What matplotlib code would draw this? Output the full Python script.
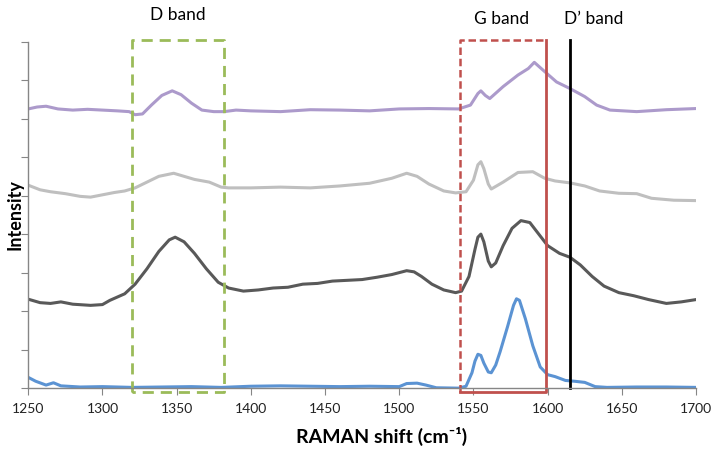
import matplotlib
matplotlib.use("Agg")
import matplotlib.pyplot as plt

plt.rcParams['font.family'] = ['Lato', 'DejaVu Sans']

# Raman spectra (offset stacked, arbitrary units)
blue_x = [1250, 1255, 1262, 1267, 1272, 1285, 1300, 1320, 1340, 1360, 1380, 1400,
          1420, 1440, 1460, 1480, 1500, 1505, 1512, 1518, 1525, 1540, 1545, 1549,
          1551, 1553, 1555, 1557, 1560, 1562, 1565, 1568, 1573, 1577, 1579, 1581,
          1585, 1590, 1595, 1600, 1605, 1612, 1618, 1625, 1632, 1640, 1660, 1680,
          1700]
blue_y = [0.28, 0.18, 0.08, 0.14, 0.06, 0.03, 0.04, 0.02, 0.03, 0.04, 0.02, 0.05,
          0.06, 0.05, 0.04, 0.05, 0.04, 0.12, 0.13, 0.08, 0.01, 0.0, 0.05, 0.4,
          0.7, 0.88, 0.85, 0.65, 0.42, 0.4, 0.6, 0.95, 1.6, 2.15, 2.32, 2.28,
          1.8, 1.1, 0.55, 0.35, 0.3, 0.2, 0.18, 0.15, 0.04, 0.02, 0.03, 0.03,
          0.02]

dark_x = [1250, 1258, 1265, 1272, 1280, 1292, 1300, 1305, 1315, 1322, 1330, 1338,
          1345, 1349, 1355, 1362, 1370, 1378, 1385, 1395, 1405, 1415, 1425, 1435,
          1445, 1455, 1465, 1475, 1485, 1495, 1505, 1510, 1515, 1522, 1530, 1538,
          1542, 1547, 1551, 1553, 1555, 1557, 1560, 1562, 1565, 1570, 1576, 1582,
          1588, 1594, 1600, 1608, 1615, 1622, 1630, 1638, 1648, 1658, 1668, 1680,
          1690, 1700]
dark_y = [2.31, 2.22, 2.2, 2.24, 2.18, 2.15, 2.17, 2.28, 2.45, 2.7, 3.1, 3.55,
          3.85, 3.92, 3.8, 3.5, 3.1, 2.75, 2.6, 2.52, 2.55, 2.6, 2.62, 2.7,
          2.72, 2.78, 2.8, 2.82, 2.88, 2.95, 3.05, 3.02, 2.9, 2.7, 2.55, 2.48,
          2.52, 2.9, 3.6, 3.92, 4.0, 3.8, 3.3, 3.15, 3.25, 3.7, 4.15, 4.35,
          4.3, 4.0, 3.7, 3.5, 3.4, 3.2, 2.9, 2.65, 2.48, 2.4, 2.3, 2.2,
          2.24, 2.3]

light_x = [1250, 1258, 1265, 1275, 1285, 1292, 1300, 1308, 1315, 1322, 1330, 1338,
           1348, 1355, 1362, 1372, 1380, 1385, 1400, 1420, 1440, 1460, 1480, 1495,
           1505, 1512, 1520, 1530, 1538, 1545, 1550, 1553, 1555, 1557, 1560, 1562,
           1570, 1580, 1590, 1598, 1605, 1615, 1625, 1635, 1648, 1660, 1670, 1685,
           1700]
light_y = [5.27, 5.15, 5.1, 5.05, 4.98, 4.96, 5.02, 5.08, 5.12, 5.2, 5.35, 5.5,
           5.58, 5.5, 5.42, 5.35, 5.22, 5.2, 5.2, 5.22, 5.2, 5.25, 5.32, 5.45,
           5.58, 5.5, 5.3, 5.12, 5.07, 5.1, 5.4, 5.8, 5.88, 5.7, 5.3, 5.17,
           5.35, 5.6, 5.62, 5.45, 5.38, 5.33, 5.25, 5.12, 5.06, 5.05, 4.93, 4.88,
           4.87]

purple_x = [1250, 1256, 1262, 1270, 1280, 1290, 1300, 1310, 1318, 1322, 1327, 1333,
            1340, 1347, 1353, 1360, 1367, 1375, 1382, 1390, 1400, 1420, 1440, 1460,
            1480, 1500, 1520, 1540, 1548, 1553, 1555, 1558, 1561, 1570, 1580, 1587,
            1591, 1598, 1606, 1615, 1625, 1633, 1642, 1660, 1680, 1700]
purple_y = [7.25, 7.3, 7.32, 7.25, 7.22, 7.24, 7.22, 7.2, 7.18, 7.1, 7.12, 7.35,
            7.6, 7.72, 7.62, 7.4, 7.22, 7.18, 7.18, 7.22, 7.2, 7.18, 7.23, 7.22,
            7.2, 7.25, 7.26, 7.25, 7.35, 7.65, 7.72, 7.6, 7.52, 7.83, 8.13, 8.3,
            8.46, 8.22, 7.95, 7.78, 7.57, 7.35, 7.22, 7.18, 7.23, 7.26]

# band markers
d_band = (1320, 1382)
g_band = (1541, 1599)
d_prime = 1615

fig = plt.figure(figsize=(7.15, 4.49), dpi=100)
ax = fig.add_axes([0.0395, 0.1355, 0.934, 0.772])

ax.plot(blue_x, blue_y, color='#5b93d3', lw=2.2)
ax.plot(dark_x, dark_y, color='#595959', lw=2.2)
ax.plot(light_x, light_y, color='#bfbfbf', lw=2.2)
ax.plot(purple_x, purple_y, color='#ac9acb', lw=2.2)

# D band box (dashed green)
gx0, gx1 = d_band
ax.plot([gx0, gx0, gx1, gx1, gx0], [-0.09, 9.04, 9.04, -0.09, -0.09],
        color='#9bbb59', lw=2.0, ls=(0, (4, 2.5)), clip_on=False)

# G band box: dashed left/top, solid right/bottom
rx0, rx1 = g_band
ax.plot([rx0, rx0, rx1], [-0.09, 9.04, 9.04], color='#c0504d', lw=1.8,
        ls=(0, (3, 1.5)), clip_on=False)
ax.plot([rx1, rx1, rx0], [9.04, -0.09, -0.09], color='#c0504d', lw=2.0,
        clip_on=False)

# D' band line
ax.plot([d_prime, d_prime], [0, 9.04], color='black', lw=2.0, clip_on=False)

ax.text(1351, 9.7, 'D band', ha='center', va='center', fontsize=12.5)
ax.text(1569, 9.58, 'G band', ha='center', va='center', fontsize=12.5)
ax.text(1631, 9.58, 'D\u2019 band', ha='center', va='center', fontsize=12.5)

ax.set_xlim(1250, 1700)
ax.set_ylim(0, 9)
ax.set_xticks(range(1250, 1701, 50))
ax.set_yticks(range(0, 10))
ax.set_yticklabels([])

for side in ['top', 'right']:
    ax.spines[side].set_visible(False)
for side in ['left', 'bottom']:
    ax.spines[side].set_color('#868686')
    ax.spines[side].set_linewidth(1.0)
ax.tick_params(axis='both', direction='out', length=5, color='#868686',
               labelsize=10, labelcolor='#222222')
ax.tick_params(axis='x', pad=6)

fig.text(0.534, 0.028, 'RAMAN shift (cm\u207b\u00b9)', ha='center', va='center',
         fontsize=14, fontweight='bold')
fig.text(0.021, 0.523, 'Intensity', ha='center', va='center', rotation=90,
         fontsize=13, fontweight='bold')

fig.savefig('out.png', dpi=100)
